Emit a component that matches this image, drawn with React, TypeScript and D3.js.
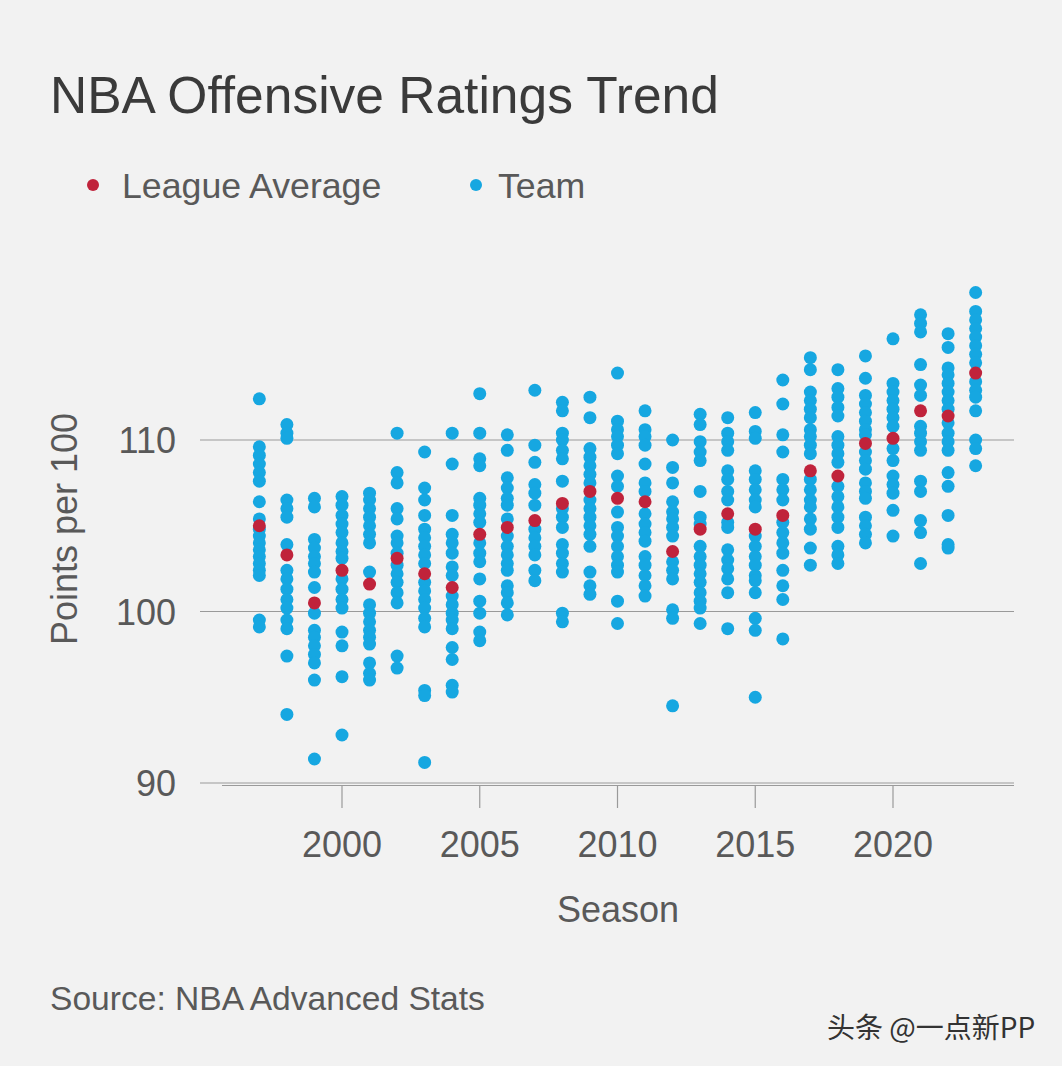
import React from "react";
import * as d3 from "d3";

const seasons: number[] = [1997,1998,1999,2000,2001,2002,2003,2004,2005,2006,2007,2008,2009,2010,2011,2012,2013,2014,2015,2016,2017,2018,2019,2020,2021,2022,2023];

const leagueAverage: number[] = [105.0,103.3,100.5,102.4,101.6,103.1,102.2,101.4,104.5,104.9,105.3,106.3,107.0,106.6,106.4,103.5,104.8,105.7,104.8,105.6,108.2,107.9,109.8,110.1,111.7,111.4,113.9];

const teamRatings: number[][] = [
  [112.4,109.6,109.1,108.6,108.1,107.6,106.4,105.4,104.8,104.4,104.0,103.6,103.2,102.8,102.4,102.1,99.5,99.1],
  [110.9,110.4,110.1,106.5,106.0,105.5,103.9,102.4,101.9,101.3,100.7,100.2,99.5,99.0,97.4,94.0],
  [106.6,106.1,104.2,103.7,103.2,102.8,102.3,101.4,99.9,98.9,98.5,98.0,97.5,97.0,96.0,91.4],
  [106.7,106.2,105.6,105.1,104.6,104.0,103.5,103.1,101.9,101.3,100.7,100.2,98.8,98.0,96.2,92.8],
  [106.9,106.5,106.0,105.5,105.0,104.5,104.0,102.3,100.4,99.9,99.4,98.9,98.5,98.1,97.0,96.4,96.0],
  [110.4,108.1,107.5,106.0,105.4,104.4,104.0,103.4,102.7,102.2,101.7,101.1,100.5,97.4,96.7],
  [109.3,107.2,106.5,105.6,104.8,104.3,103.8,103.3,102.8,101.7,101.2,100.7,100.2,99.6,99.1,95.4,95.1,91.2],
  [110.4,108.6,105.6,104.5,104.0,103.4,102.6,102.1,100.9,100.4,99.9,99.5,99.0,97.9,97.2,95.7,95.3],
  [112.7,110.4,108.9,108.5,106.6,106.2,105.7,105.2,104.0,103.4,102.9,101.9,100.6,99.9,98.8,98.3],
  [110.3,109.4,107.8,107.2,106.6,106.2,105.4,104.4,103.8,103.3,102.8,102.4,101.5,101.1,100.5,99.8],
  [112.9,109.7,108.7,107.4,106.9,106.2,104.8,104.3,103.8,103.3,102.4,101.8],
  [112.2,111.7,110.4,110.0,109.4,108.9,107.6,106.0,105.5,104.9,103.9,103.4,102.8,102.3,99.9,99.4],
  [112.5,111.3,109.5,109.0,108.5,108.0,107.5,106.5,106.0,105.5,105.0,104.5,103.8,102.3,101.5,101.0],
  [113.9,111.1,110.6,110.2,109.7,109.2,107.9,107.3,105.8,104.9,104.4,103.8,103.2,102.7,102.3,100.6,99.3],
  [111.7,110.6,110.2,109.7,108.6,107.5,107.0,105.7,105.1,104.6,104.1,103.2,102.7,102.1,101.5,100.9],
  [110.0,108.4,107.5,106.4,105.8,105.4,104.9,104.4,102.9,102.4,101.9,100.1,99.6,94.5],
  [111.5,110.9,109.9,109.3,108.8,107.0,105.5,105.1,103.8,103.2,102.7,102.2,101.7,101.1,100.6,100.2,99.3],
  [111.3,110.4,109.9,109.4,108.2,107.7,107.0,106.5,105.2,104.9,103.6,103.0,102.5,101.9,101.1,99.0],
  [111.6,110.5,110.1,108.2,107.7,107.1,106.5,106.1,104.4,103.8,103.2,102.7,102.1,101.8,101.1,99.6,98.9,95.0],
  [113.5,112.1,110.3,109.3,107.7,107.1,106.5,105.2,104.6,104.0,103.4,102.4,101.5,100.7,98.4],
  [114.8,114.1,112.8,112.3,111.8,111.3,110.6,110.2,109.7,109.2,107.7,107.1,106.5,106.1,105.4,104.8,103.7,102.7],
  [114.1,113.0,112.5,111.9,111.4,110.2,109.7,109.2,108.7,107.3,106.7,106.1,105.5,104.9,103.8,103.3,102.8],
  [114.9,113.6,112.6,112.1,111.6,111.1,110.6,110.3,109.3,108.8,108.3,107.5,107.0,106.6,105.5,105.0,104.5,104.0],
  [115.9,113.3,112.8,112.3,111.8,111.3,110.8,109.5,108.8,107.9,107.4,106.9,105.9,104.4],
  [117.3,116.8,116.3,114.4,113.2,112.6,110.8,110.4,109.9,109.4,107.6,107.0,105.3,104.6,102.8],
  [116.2,115.4,114.2,113.8,113.3,112.8,112.3,111.8,111.0,110.4,109.9,109.4,108.1,107.3,105.6,103.9,103.7],
  [118.6,117.5,117.0,116.5,116.0,115.5,115.0,114.5,113.4,112.9,112.5,111.7,110.0,109.5,108.5],
];

const yTicks: number[] = [90, 100, 110];
const xTicks: number[] = [2000, 2005, 2010, 2015, 2020];

const FONT = "'Liberation Sans', Arial, Helvetica, sans-serif";
const BLUE = "#16a7e1";
const RED = "#c0233b";
const TEXT = "#595959";

export default function App() {
  const W = 1062, H = 1066;
  const x = d3.scaleLinear().domain([2000, 2020]).range([342, 893]);
  const y = d3.scaleLinear().domain([90, 110]).range([783, 440]);
  const r = 6.5;

  const teamPoints = teamRatings.flatMap((vals, i) =>
    vals.map((v) => ({ season: seasons[i], v }))
  );

  return (
    <svg
      width={W}
      height={H}
      style={{ position: "absolute", left: 0, top: 0, display: "block" }}
    >
      <rect x={0} y={0} width={W} height={H} fill="#f2f2f2" />
      <text x={50} y={113} fontFamily={FONT} fontSize={51.5} fill="#3a3a3a">
        NBA Offensive Ratings Trend
      </text>
      {/* legend */}
      <circle cx={93} cy={185} r={6} fill={RED} />
      <text x={122} y={198} fontFamily={FONT} fontSize={35.7} fill={TEXT}>
        League Average
      </text>
      <circle cx={476} cy={185} r={6} fill={BLUE} />
      <text x={498} y={198} fontFamily={FONT} fontSize={35.7} fill={TEXT}>
        Team
      </text>

      {/* grid */}
      {yTicks.map((t) => (
        <g key={t}>
          <line x1={200} x2={1014} y1={y(t)} y2={y(t)} stroke="#9a9a9a" strokeWidth={1.2} />
          <text
            x={176}
            y={y(t) + 13}
            textAnchor="end"
            fontFamily={FONT}
            fontSize={36}
            fill={TEXT}
          >
            {t}
          </text>
        </g>
      ))}
      <line x1={222} x2={1014} y1={y(90) + 2.5} y2={y(90) + 2.5} stroke="#9a9a9a" strokeWidth={1.2} />
      {xTicks.map((t) => (
        <g key={t}>
          <line x1={x(t)} x2={x(t)} y1={y(90) + 3} y2={y(90) + 25} stroke="#9a9a9a" strokeWidth={1.2} />
          <text
            x={x(t)}
            y={857}
            textAnchor="middle"
            fontFamily={FONT}
            fontSize={36}
            fill={TEXT}
          >
            {t}
          </text>
        </g>
      ))}

      {/* points */}
      {teamPoints.map((p, i) => (
        <circle key={"t" + i} cx={x(p.season)} cy={y(p.v)} r={r} fill={BLUE} />
      ))}
      {leagueAverage.map((v, i) => (
        <circle key={"l" + i} cx={x(seasons[i])} cy={y(v)} r={r} fill={RED} />
      ))}

      {/* axis titles */}
      <text
        x={618}
        y={922}
        textAnchor="middle"
        fontFamily={FONT}
        fontSize={36}
        fill={TEXT}
      >
        Season
      </text>
      <text
        transform={`translate(77, 529) rotate(-90)`}
        textAnchor="middle"
        fontFamily={FONT}
        fontSize={36}
        fill={TEXT}
      >
        Points per 100
      </text>

      <text x={50} y={1010} fontFamily={FONT} fontSize={33.6} fill={TEXT}>
        Source: NBA Advanced Stats
      </text>
      <text x={827} y={1038} fontFamily="'Noto Sans CJK SC', sans-serif" fontSize={28} fill="#333">
        头条 @一点新PP
      </text>
    </svg>
  );
}
